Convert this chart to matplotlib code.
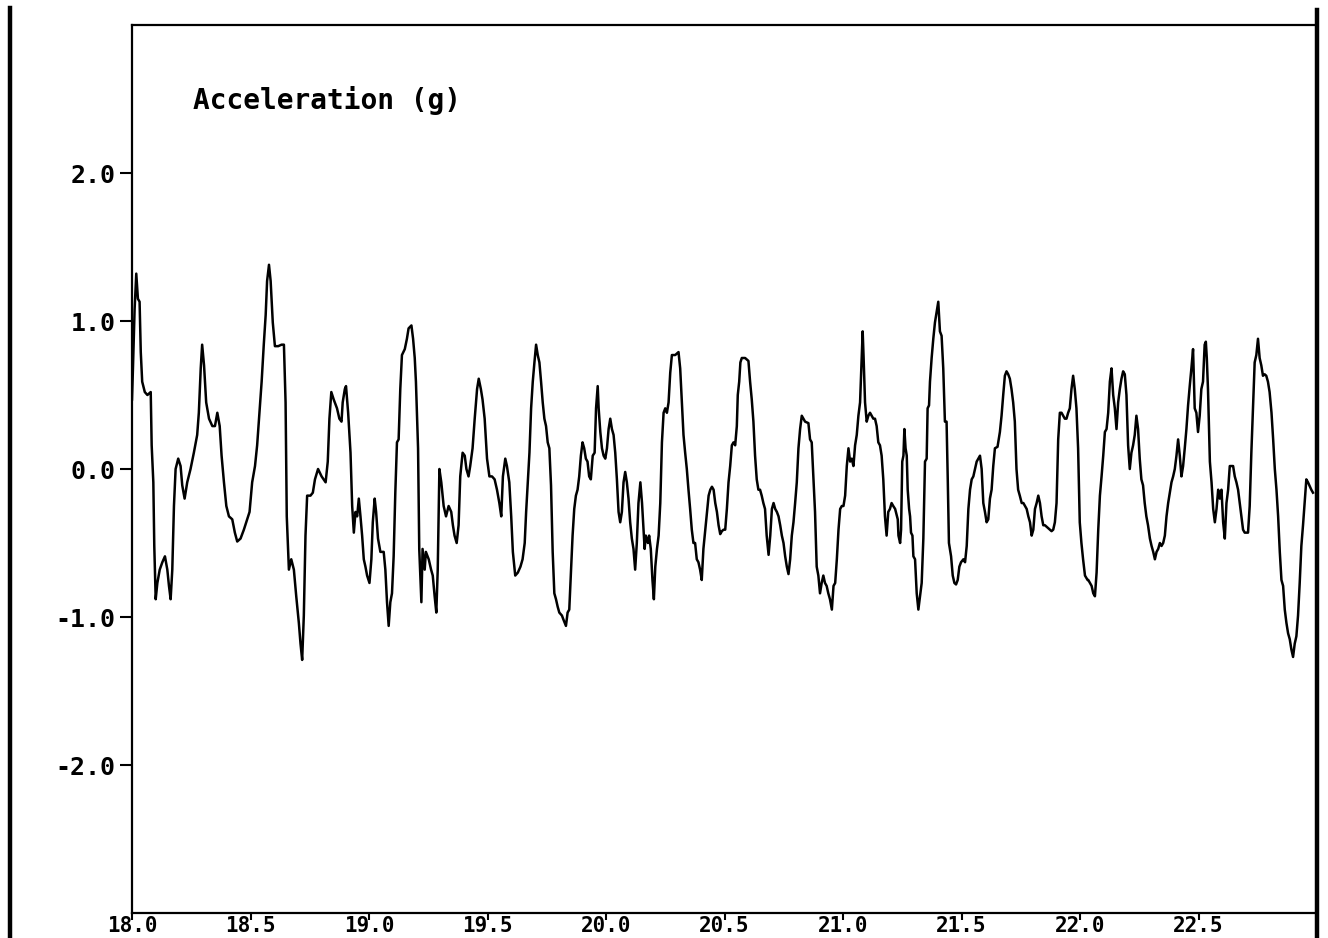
import numpy as np
import matplotlib
matplotlib.use("Agg")
import matplotlib.pyplot as plt
from matplotlib.lines import Line2D

# time (s) and acceleration (g) in six stretches
t1 = [18.000, 18.004, 18.011, 18.018, 18.025, 18.032, 18.037, 18.043, 18.054, 18.065,
      18.079, 18.083, 18.090, 18.094, 18.100, 18.107, 18.117, 18.128, 18.139, 18.149,
      18.156, 18.163, 18.170, 18.177, 18.184, 18.195, 18.205, 18.212, 18.222, 18.233,
      18.247, 18.261, 18.275, 18.282, 18.290, 18.296, 18.304, 18.313, 18.325, 18.339,
      18.350, 18.360, 18.370, 18.378, 18.388, 18.398, 18.409, 18.423, 18.434, 18.444,
      18.458, 18.472, 18.486, 18.496, 18.507, 18.519, 18.528, 18.535, 18.547, 18.556,
      18.564, 18.570, 18.578, 18.585, 18.594, 18.603, 18.617, 18.631, 18.641, 18.648,
      18.653, 18.662, 18.672, 18.683, 18.693, 18.704, 18.711, 18.718, 18.725, 18.732,
      18.739, 18.753, 18.763, 18.772, 18.785, 18.800, 18.817, 18.826]
a1 = [0.47, 0.68, 1.08, 1.32, 1.15, 1.13, 0.79, 0.59, 0.52, 0.50,
      0.52, 0.16, -0.09, -0.52, -0.88, -0.77, -0.68, -0.63, -0.59, -0.68,
      -0.79, -0.88, -0.68, -0.25, 0.00, 0.07, 0.02, -0.11, -0.20, -0.09,
      0.00, 0.11, 0.23, 0.38, 0.68, 0.84, 0.70, 0.45, 0.34, 0.29,
      0.29, 0.38, 0.29, 0.09, -0.09, -0.25, -0.32, -0.34, -0.43, -0.49,
      -0.47, -0.41, -0.34, -0.29, -0.09, 0.02, 0.16, 0.32, 0.59, 0.84,
      1.04, 1.27, 1.38, 1.27, 0.99, 0.83, 0.83, 0.84, 0.84, 0.45,
      -0.32, -0.68, -0.61, -0.68, -0.86, -1.04, -1.18, -1.29, -0.99, -0.45,
      -0.18, -0.18, -0.16, -0.07, 0.00, -0.05, -0.09, 0.05]

t2 = [18.833, 18.841, 18.851, 18.865, 18.875, 18.884, 18.889, 18.898, 18.903, 18.912,
      18.922, 18.929, 18.936, 18.943, 18.950, 18.957, 18.964, 18.971, 18.978, 18.985,
      18.992, 19.002, 19.010, 19.016, 19.024, 19.030, 19.038, 19.048, 19.062, 19.069,
      19.076, 19.083, 19.090, 19.097, 19.104, 19.111, 19.118, 19.125, 19.132, 19.139,
      19.151, 19.160, 19.167, 19.179, 19.186, 19.193, 19.198, 19.207, 19.212, 19.221,
      19.226, 19.235, 19.240, 19.252, 19.262, 19.269, 19.277, 19.284, 19.290, 19.297,
      19.305, 19.315, 19.325, 19.336, 19.347, 19.354, 19.361, 19.370, 19.378, 19.385,
      19.395, 19.404, 19.411, 19.420, 19.427, 19.437, 19.446, 19.456, 19.463, 19.472,
      19.479, 19.488, 19.498, 19.508, 19.519, 19.530, 19.540, 19.550, 19.558, 19.565,
      19.575, 19.582, 19.592, 19.600, 19.607, 19.617, 19.628]
a2 = [0.34, 0.52, 0.47, 0.41, 0.34, 0.32, 0.45, 0.54, 0.56, 0.38,
      0.11, -0.25, -0.43, -0.29, -0.32, -0.20, -0.32, -0.45, -0.61, -0.66,
      -0.72, -0.77, -0.61, -0.36, -0.20, -0.29, -0.47, -0.56, -0.56, -0.68,
      -0.90, -1.06, -0.90, -0.84, -0.59, -0.16, 0.18, 0.20, 0.54, 0.77,
      0.81, 0.88, 0.95, 0.97, 0.88, 0.75, 0.59, 0.14, -0.54, -0.90,
      -0.54, -0.68, -0.56, -0.61, -0.68, -0.72, -0.86, -0.97, -0.68, 0.00,
      -0.09, -0.25, -0.32, -0.25, -0.29, -0.38, -0.45, -0.50, -0.38, -0.05,
      0.11, 0.09, 0.00, -0.05, 0.02, 0.14, 0.34, 0.54, 0.61, 0.54,
      0.47, 0.34, 0.07, -0.05, -0.05, -0.07, -0.14, -0.23, -0.32, -0.05,
      0.07, 0.02, -0.09, -0.32, -0.56, -0.72, -0.70]

t3 = [19.639, 19.648, 19.657, 19.663, 19.670, 19.677, 19.684, 19.691, 19.698, 19.705,
      19.712, 19.719, 19.726, 19.733, 19.740, 19.747, 19.754, 19.761, 19.768, 19.775,
      19.782, 19.789, 19.796, 19.803, 19.814, 19.821, 19.831, 19.838, 19.845, 19.852,
      19.859, 19.866, 19.873, 19.880, 19.887, 19.894, 19.901, 19.908, 19.915, 19.922,
      19.929, 19.936, 19.944, 19.952, 19.958, 19.965, 19.969, 19.976, 19.983, 19.990,
      19.997, 20.004, 20.011, 20.018, 20.025, 20.032, 20.039, 20.046, 20.053, 20.060,
      20.067, 20.074, 20.081, 20.088, 20.095, 20.102, 20.109, 20.116, 20.123, 20.130,
      20.137, 20.145, 20.152, 20.159, 20.163, 20.168, 20.177, 20.182, 20.189, 20.196,
      20.202, 20.208, 20.215, 20.222, 20.229, 20.236, 20.243, 20.250, 20.257, 20.264,
      20.271, 20.278, 20.292, 20.306, 20.313, 20.320, 20.327, 20.334, 20.341, 20.348,
      20.355, 20.362, 20.369, 20.376, 20.383, 20.390, 20.397, 20.404, 20.411, 20.419,
      20.430]
a3 = [-0.66, -0.61, -0.50, -0.29, -0.09, 0.11, 0.41, 0.59, 0.72, 0.84,
      0.77, 0.72, 0.59, 0.45, 0.34, 0.29, 0.18, 0.14, -0.11, -0.56,
      -0.84, -0.88, -0.93, -0.97, -0.99, -1.02, -1.06, -0.97, -0.95, -0.70,
      -0.45, -0.27, -0.18, -0.14, -0.05, 0.09, 0.18, 0.14, 0.07, 0.05,
      -0.05, -0.07, 0.09, 0.11, 0.41, 0.56, 0.41, 0.25, 0.14, 0.09,
      0.07, 0.14, 0.27, 0.34, 0.27, 0.23, 0.11, -0.07, -0.29, -0.36,
      -0.29, -0.09, -0.02, -0.09, -0.20, -0.36, -0.47, -0.54, -0.68, -0.50,
      -0.23, -0.09, -0.23, -0.43, -0.54, -0.45, -0.50, -0.45, -0.54, -0.75,
      -0.88, -0.66, -0.54, -0.45, -0.23, 0.18, 0.38, 0.41, 0.38, 0.45,
      0.65, 0.77, 0.77, 0.79, 0.68, 0.45, 0.23, 0.11, 0.00, -0.14,
      -0.27, -0.41, -0.50, -0.50, -0.61, -0.63, -0.68, -0.75, -0.54, -0.41,
      -0.23]

t4 = [20.433, 20.440, 20.447, 20.454, 20.461, 20.468, 20.475, 20.482, 20.489, 20.496,
      20.503, 20.510, 20.517, 20.524, 20.531, 20.538, 20.545, 20.552, 20.556, 20.562,
      20.567, 20.573, 20.587, 20.601, 20.608, 20.615, 20.622, 20.629, 20.636, 20.643,
      20.650, 20.657, 20.664, 20.671, 20.678, 20.686, 20.693, 20.700, 20.707, 20.714,
      20.721, 20.728, 20.735, 20.742, 20.749, 20.756, 20.763, 20.770, 20.777, 20.784,
      20.791, 20.798, 20.805, 20.812, 20.819, 20.826, 20.833, 20.840, 20.854, 20.861,
      20.868, 20.875, 20.882, 20.889, 20.896, 20.903, 20.910, 20.917, 20.924, 20.931,
      20.938, 20.945, 20.953, 20.960, 20.967, 20.974, 20.981, 20.988, 20.995, 21.002,
      21.009, 21.016, 21.023, 21.030, 21.037, 21.044, 21.051, 21.058, 21.065, 21.072,
      21.079, 21.083, 21.087, 21.093, 21.100, 21.107, 21.114, 21.121, 21.128, 21.135,
      21.142, 21.149, 21.156, 21.163, 21.170, 21.177, 21.184, 21.191, 21.198, 21.205,
      21.212, 21.220, 21.231]
a4 = [-0.18, -0.14, -0.12, -0.14, -0.23, -0.29, -0.38, -0.44, -0.42, -0.41,
      -0.41, -0.27, -0.09, 0.02, 0.16, 0.18, 0.16, 0.29, 0.50, 0.59,
      0.72, 0.75, 0.75, 0.73, 0.59, 0.47, 0.32, 0.09, -0.07, -0.14,
      -0.14, -0.18, -0.23, -0.27, -0.45, -0.58, -0.45, -0.27, -0.23, -0.27,
      -0.29, -0.32, -0.38, -0.45, -0.50, -0.59, -0.66, -0.71, -0.61, -0.45,
      -0.36, -0.23, -0.09, 0.14, 0.27, 0.36, 0.34, 0.32, 0.31, 0.20,
      0.18, -0.05, -0.29, -0.66, -0.72, -0.84, -0.77, -0.72, -0.77, -0.79,
      -0.84, -0.88, -0.95, -0.79, -0.77, -0.61, -0.41, -0.27, -0.25, -0.25,
      -0.18, 0.02, 0.14, 0.05, 0.07, 0.02, 0.16, 0.23, 0.36, 0.45,
      0.75, 0.93, 0.75, 0.45, 0.32, 0.36, 0.38, 0.36, 0.34, 0.34,
      0.29, 0.18, 0.16, 0.09, -0.07, -0.32, -0.45, -0.29, -0.27, -0.23,
      -0.25, -0.27, -0.34]

t5 = [21.234, 21.241, 21.245, 21.250, 21.255, 21.259, 21.264, 21.269, 21.273, 21.279,
      21.283, 21.287, 21.293, 21.297, 21.304, 21.311, 21.318, 21.325, 21.332, 21.339,
      21.346, 21.353, 21.357, 21.363, 21.367, 21.374, 21.381, 21.388, 21.395, 21.402,
      21.409, 21.416, 21.423, 21.430, 21.437, 21.442, 21.447, 21.456, 21.463, 21.470,
      21.477, 21.484, 21.491, 21.498, 21.508, 21.515, 21.522, 21.529, 21.536, 21.543,
      21.550, 21.557, 21.564, 21.571, 21.578, 21.585, 21.592, 21.599, 21.606, 21.613,
      21.620, 21.627, 21.634, 21.641, 21.652, 21.662, 21.669, 21.676, 21.683, 21.690,
      21.697, 21.704, 21.711, 21.718, 21.725, 21.732, 21.739, 21.746, 21.754, 21.761,
      21.768, 21.775, 21.782, 21.789, 21.796, 21.803, 21.810, 21.817, 21.824, 21.831,
      21.838, 21.845, 21.852, 21.866, 21.880, 21.887, 21.894, 21.901, 21.908, 21.915,
      21.922, 21.929, 21.936, 21.943, 21.950, 21.957, 21.964, 21.971, 21.978, 21.985,
      21.992, 21.999, 22.006, 22.013, 22.021, 22.032]
a5 = [-0.45, -0.50, -0.41, 0.05, 0.09, 0.27, 0.14, 0.09, -0.14, -0.27,
      -0.32, -0.43, -0.45, -0.59, -0.61, -0.84, -0.95, -0.86, -0.77, -0.47,
      0.05, 0.07, 0.41, 0.43, 0.59, 0.75, 0.88, 0.99, 1.06, 1.13,
      0.93, 0.90, 0.68, 0.32, 0.32, -0.07, -0.50, -0.59, -0.72, -0.77,
      -0.78, -0.75, -0.66, -0.63, -0.61, -0.63, -0.52, -0.27, -0.14, -0.07,
      -0.05, 0.00, 0.05, 0.07, 0.09, 0.00, -0.23, -0.29, -0.36, -0.34,
      -0.20, -0.14, 0.02, 0.14, 0.15, 0.25, 0.36, 0.50, 0.63, 0.66,
      0.64, 0.61, 0.54, 0.45, 0.32, 0.00, -0.14, -0.18, -0.23, -0.23,
      -0.25, -0.27, -0.32, -0.36, -0.45, -0.41, -0.27, -0.23, -0.18, -0.23,
      -0.32, -0.38, -0.38, -0.40, -0.42, -0.41, -0.36, -0.23, 0.20, 0.38,
      0.38, 0.36, 0.34, 0.34, 0.38, 0.41, 0.54, 0.63, 0.54, 0.41,
      0.14, -0.36, -0.50, -0.61, -0.72, -0.75]

t6 = [22.035, 22.042, 22.049, 22.056, 22.063, 22.070, 22.077, 22.084, 22.091, 22.098,
      22.105, 22.112, 22.119, 22.126, 22.133, 22.140, 22.147, 22.154, 22.161, 22.168,
      22.175, 22.182, 22.189, 22.196, 22.203, 22.210, 22.217, 22.224, 22.231, 22.238,
      22.245, 22.252, 22.259, 22.266, 22.273, 22.280, 22.287, 22.295, 22.302, 22.309,
      22.316, 22.323, 22.330, 22.337, 22.344, 22.351, 22.358, 22.365, 22.372, 22.379,
      22.386, 22.393, 22.400, 22.407, 22.414, 22.421, 22.428, 22.435, 22.442, 22.449,
      22.456, 22.463, 22.470, 22.477, 22.484, 22.491, 22.498, 22.505, 22.512, 22.519,
      22.526, 22.531, 22.535, 22.540, 22.548, 22.555, 22.562, 22.569, 22.576, 22.583,
      22.590, 22.597, 22.604, 22.611, 22.618, 22.625, 22.632, 22.646, 22.653, 22.660,
      22.667, 22.674, 22.681, 22.688, 22.695, 22.709, 22.716, 22.723, 22.730, 22.737,
      22.744, 22.751, 22.758, 22.765, 22.772, 22.779, 22.786, 22.793, 22.800, 22.808,
      22.815, 22.822, 22.829, 22.836, 22.843, 22.850, 22.857, 22.864, 22.871, 22.878,
      22.885, 22.892, 22.899, 22.906, 22.913, 22.920, 22.927, 22.934, 22.941, 22.948,
      22.955, 22.962, 22.976, 22.983]
a6 = [-0.75, -0.77, -0.79, -0.84, -0.86, -0.70, -0.41, -0.18, -0.05, 0.09,
      0.25, 0.27, 0.38, 0.59, 0.68, 0.50, 0.41, 0.27, 0.45, 0.54,
      0.61, 0.66, 0.64, 0.50, 0.16, 0.00, 0.11, 0.16, 0.23, 0.36,
      0.27, 0.07, -0.07, -0.11, -0.23, -0.32, -0.38, -0.47, -0.52, -0.56,
      -0.61, -0.56, -0.54, -0.50, -0.52, -0.50, -0.45, -0.32, -0.23, -0.16,
      -0.09, -0.05, 0.00, 0.09, 0.20, 0.09, -0.05, 0.02, 0.14, 0.27,
      0.43, 0.56, 0.68, 0.81, 0.41, 0.38, 0.25, 0.36, 0.54, 0.59,
      0.84, 0.86, 0.75, 0.54, 0.05, -0.09, -0.27, -0.36, -0.27, -0.14,
      -0.20, -0.14, -0.36, -0.47, -0.23, -0.14, 0.02, 0.02, -0.05, -0.09,
      -0.14, -0.23, -0.32, -0.41, -0.43, -0.43, -0.25, 0.11, 0.41, 0.72,
      0.77, 0.88, 0.75, 0.70, 0.63, 0.64, 0.63, 0.59, 0.52, 0.38,
      0.20, 0.00, -0.14, -0.32, -0.56, -0.75, -0.79, -0.95, -1.04, -1.11,
      -1.15, -1.22, -1.27, -1.18, -1.13, -0.99, -0.77, -0.52, -0.38, -0.23,
      -0.07, -0.09, -0.14, -0.16]

x_ticks = [18.0, 18.5, 19.0, 19.5, 20.0, 20.5, 21.0, 21.5, 22.0, 22.5]
y_ticks = [2.0, 1.0, 0.0, -1.0, -2.0]
title = "Acceleration (g)"

time_s = np.concatenate([t1, t2, t3, t4, t5, t6])
accel_g = np.concatenate([a1, a2, a3, a4, a5, a6])

plt.rcParams['axes.unicode_minus'] = False
mono = {'family': 'DejaVu Sans Mono', 'weight': 'bold'}

W, H = 1328, 938
fig = plt.figure(figsize=(W / 100, H / 100), dpi=100)
ax = fig.add_axes([132 / W, 1 - 913 / H, (1317 - 132) / W, (913 - 25) / H])

ax.plot(time_s, accel_g, color='black', lw=1.8)

ax.set_xlim(18.0, 23.0)
ax.set_ylim(-3.0, 3.0)
ax.set_xticks(x_ticks)
ax.set_xticklabels(["%.1f" % v for v in x_ticks], fontdict=mono, fontsize=15)
ax.set_yticks(y_ticks)
ax.set_yticklabels(["%.1f" % v for v in y_ticks], fontdict=mono, fontsize=18)
ax.tick_params(axis='x', direction='out', length=5, width=1.5, pad=-3)
ax.tick_params(axis='y', direction='out', length=9, width=1.5, pad=3)
for s in ax.spines.values():
    s.set_linewidth(1.6)

ax.text(0.0515, 0.9155, title, transform=ax.transAxes, va='center', ha='left',
        fontsize=20, **mono)

# thick frame lines of the scanned page
fig.add_artist(Line2D([10 / W, 10 / W], [0, 1 - 8 / H], color='black', lw=3.2))
fig.add_artist(Line2D([1317 / W, 1317 / W], [0, 1 - 10 / H], color='black', lw=3.2))

fig.savefig('out.png', dpi=100)
